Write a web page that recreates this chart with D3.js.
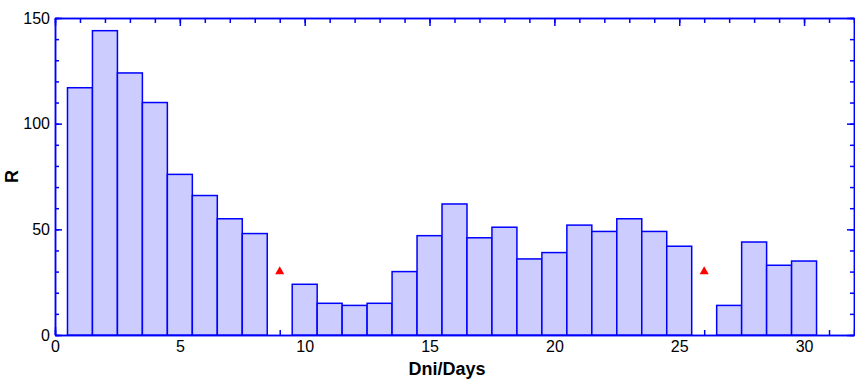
<!DOCTYPE html>
<html>
<head>
<meta charset="utf-8">
<script src="https://cdn.jsdelivr.net/npm/d3@7"></script>
<style>
  body { margin: 0; background: #fff; }
  svg { display: block; }
  text { font-family: "Liberation Sans", Arial, sans-serif; }
</style>
</head>
<body>
<svg id="chart" width="855" height="380"></svg>
<script>
// ---- data ----
const days = [1,2,3,4,5,6,7,8,9,10,11,12,13,14,15,16,17,18,19,20,21,22,23,24,25,26,27,28,29,30];
const values = [117,144,124,110,76,66,55,48,null,24,15,14,15,30,47,62,46,51,36,39,52,49,55,49,42,null,14,44,33,35];
const missingDays = [9, 26];
const missingMarks = [30, 30];
const xTicks = [0,5,10,15,20,25,30];
const yTicks = [0,50,100,150];
const xTitle = "Dni/Days";
const yTitle = "R";

// ---- layout ----
const svg = d3.select("#chart");
const pLeft = 55, pRight = 854, pTop = 18, pBottom = 335;
const x = d3.scaleLinear().domain([0, 32]).range([pLeft, pRight]);
const y = d3.scaleLinear().domain([0, 150]).range([pBottom, pTop]);
const blue = "#0000ff";

function styleAxis(g) {
  g.selectAll("path.domain").attr("stroke", blue).attr("stroke-width", 1.5);
  g.selectAll(".tick line").attr("stroke", blue).attr("stroke-width", 1.5);
  g.selectAll(".tick text").attr("fill", "#000").style("font-size", "16px")
    .style("font-family", "'Liberation Sans', Arial, sans-serif");
}

const minorX = d3.range(0, 33);
const minorY = d3.range(0, 151, 10);

// bottom axis: minor + major
svg.append("g").attr("transform", `translate(0,${pBottom})`)
  .call(d3.axisBottom(x).tickValues(minorX).tickSize(-5).tickSizeOuter(0).tickFormat(""))
  .call(styleAxis);
svg.append("g").attr("transform", `translate(0,${pBottom})`)
  .call(d3.axisBottom(x).tickValues(xTicks).tickSize(-8).tickSizeOuter(0).tickPadding(6))
  .call(styleAxis);
// top axis
svg.append("g").attr("transform", `translate(0,${pTop})`)
  .call(d3.axisTop(x).tickValues(minorX).tickSize(-5).tickSizeOuter(0).tickFormat(""))
  .call(styleAxis);
svg.append("g").attr("transform", `translate(0,${pTop})`)
  .call(d3.axisTop(x).tickValues(xTicks).tickSize(-8).tickSizeOuter(0).tickFormat(""))
  .call(styleAxis);
// left axis
svg.append("g").attr("transform", `translate(${pLeft},0)`)
  .call(d3.axisLeft(y).tickValues(minorY).tickSize(-4).tickSizeOuter(0).tickFormat(""))
  .call(styleAxis);
svg.append("g").attr("transform", `translate(${pLeft},0)`)
  .call(d3.axisLeft(y).tickValues(yTicks).tickSize(-7).tickSizeOuter(0).tickPadding(5))
  .call(styleAxis)
  .call(g => g.selectAll(".tick text").attr("x", -5));
// right axis
svg.append("g").attr("transform", `translate(${pRight},0)`)
  .call(d3.axisRight(y).tickValues(minorY).tickSize(-4).tickSizeOuter(0).tickFormat(""))
  .call(styleAxis);
svg.append("g").attr("transform", `translate(${pRight},0)`)
  .call(d3.axisRight(y).tickValues(yTicks).tickSize(-7).tickSizeOuter(0).tickFormat(""))
  .call(styleAxis);

// bars
const barData = days.map((d, i) => ({ day: d, v: values[i] })).filter(d => d.v != null);
svg.append("g").selectAll("rect").data(barData).join("rect")
  .attr("x", d => x(d.day - 0.5))
  .attr("width", d => x(d.day + 0.5) - x(d.day - 0.5))
  .attr("y", d => y(d.v))
  .attr("height", d => y(0) - y(d.v))
  .attr("fill", "#ccccff")
  .attr("stroke", blue)
  .attr("stroke-width", 1.5);

// missing markers
svg.append("g").selectAll("path").data(missingDays.map((d, i) => ({ day: d, v: missingMarks[i] }))).join("path")
  .attr("d", d3.symbol().type(d3.symbolTriangle).size(36))
  .attr("transform", d => `translate(${x(d.day)},${y(d.v)})`)
  .attr("fill", "#ff0000");

// titles
svg.append("text").attr("x", 447).attr("y", 375).attr("text-anchor", "middle")
  .style("font-size", "18px").style("font-weight", "bold").text(xTitle);
svg.append("text").attr("transform", `translate(18,${(pTop + pBottom) / 2}) rotate(-90)`)
  .attr("text-anchor", "middle")
  .style("font-size", "18px").style("font-weight", "bold").text(yTitle);
</script>
</body>
</html>
